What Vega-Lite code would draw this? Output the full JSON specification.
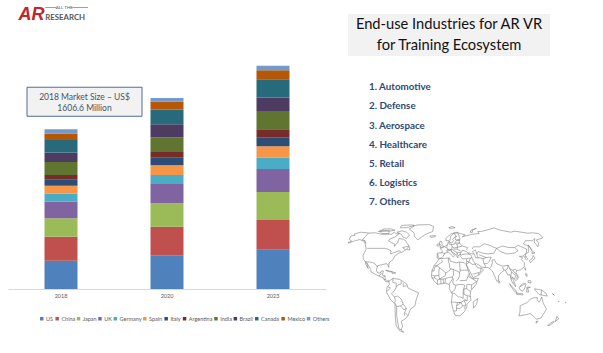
{"$schema":"https://vega.github.io/schema/vega-lite/v6.json","background":"white","padding":{"left":8,"top":0,"right":0,"bottom":0},"spacing":18,"config":{"view":{"stroke":null}},
"hconcat":[
{"bounds":"flush","spacing":0,"vconcat":[
{"width":318,"height":60,"data":{"values":[{"brand":"All The Research"}]},
"layer":[
{"mark":{"type":"text","text":"AR","font":"Liberation Sans","fontWeight":"bold","fontStyle":"italic","fontSize":18,"color":"#c4242b","align":"center"},"encoding":{"x":{"datum":26,"type":"quantitative","scale":{"domain":[0,318]},"axis":null},"y":{"datum":15,"type":"quantitative","scale":{"domain":[60,0]},"axis":null}}},
{"mark":{"type":"text","text":"ALL THE","font":"Lato","fontSize":4.5,"color":"#555555","align":"center"},"encoding":{"x":{"datum":62,"type":"quantitative"},"y":{"datum":7.5,"type":"quantitative"}}},
{"mark":{"type":"text","text":"RESEARCH","font":"Lato","fontWeight":"bold","fontSize":7.8,"color":"#555555","align":"center"},"encoding":{"x":{"datum":63,"type":"quantitative"},"y":{"datum":17.5,"type":"quantitative"}}},
{"mark":{"type":"rule","color":"#777777","strokeWidth":0.7},"encoding":{"x":{"datum":41,"type":"quantitative"},"x2":{"datum":53},"y":{"datum":7.5,"type":"quantitative"}}},
{"mark":{"type":"rule","color":"#777777","strokeWidth":0.7},"encoding":{"x":{"datum":71,"type":"quantitative"},"x2":{"datum":88},"y":{"datum":7.5,"type":"quantitative"}}}
]},
{"width":318,"height":229,
"data":{"values":[
{"year":"2018","region":"US","rank":1,"value":283.6},{"year":"2018","region":"China","rank":2,"value":241},{"year":"2018","region":"Japan","rank":3,"value":188},{"year":"2018","region":"UK","rank":4,"value":167},{"year":"2018","region":"Germany","rank":5,"value":80},{"year":"2018","region":"Spain","rank":6,"value":80},{"year":"2018","region":"Italy","rank":7,"value":60},{"year":"2018","region":"Argentina","rank":8,"value":47},{"year":"2018","region":"India","rank":9,"value":131},{"year":"2018","region":"Brazil","rank":10,"value":94},{"year":"2018","region":"Canada","rank":11,"value":128},{"year":"2018","region":"Mexico","rank":12,"value":63},{"year":"2018","region":"Others","rank":13,"value":44},
{"year":"2020","region":"US","rank":1,"value":339},{"year":"2020","region":"China","rank":2,"value":288},{"year":"2020","region":"Japan","rank":3,"value":235},{"year":"2020","region":"UK","rank":4,"value":194},{"year":"2020","region":"Germany","rank":5,"value":91},{"year":"2020","region":"Spain","rank":6,"value":98},{"year":"2020","region":"Italy","rank":7,"value":76},{"year":"2020","region":"Argentina","rank":8,"value":57},{"year":"2020","region":"India","rank":9,"value":148},{"year":"2020","region":"Brazil","rank":10,"value":131},{"year":"2020","region":"Canada","rank":11,"value":147},{"year":"2020","region":"Mexico","rank":12,"value":80},{"year":"2020","region":"Others","rank":13,"value":37},
{"year":"2023","region":"US","rank":1,"value":395},{"year":"2023","region":"China","rank":2,"value":299},{"year":"2023","region":"Japan","rank":3,"value":282},{"year":"2023","region":"UK","rank":4,"value":231},{"year":"2023","region":"Germany","rank":5,"value":114},{"year":"2023","region":"Spain","rank":6,"value":115},{"year":"2023","region":"Italy","rank":7,"value":91},{"year":"2023","region":"Argentina","rank":8,"value":80},{"year":"2023","region":"India","rank":9,"value":184},{"year":"2023","region":"Brazil","rank":10,"value":134},{"year":"2023","region":"Canada","rank":11,"value":185},{"year":"2023","region":"Mexico","rank":12,"value":91},{"year":"2023","region":"Others","rank":13,"value":43}
]},
"layer":[
{"mark":{"type":"bar","width":33},
"encoding":{
"x":{"field":"year","type":"nominal","scale":{"paddingInner":0,"paddingOuter":0},"axis":{"title":null,"labelAngle":0,"labelFont":"Lato","labelFontSize":5.5,"labelColor":"#595959","labelPadding":4,"ticks":false,"domainColor":"#d9d9d9","domainWidth":1,"grid":false}},
"y":{"field":"value","type":"quantitative","stack":"zero","scale":{"domain":[0,2303],"nice":false},"axis":null},
"order":{"field":"rank","type":"quantitative"},
"color":{"field":"region","type":"nominal","scale":{"domain":["US","China","Japan","UK","Germany","Spain","Italy","Argentina","India","Brazil","Canada","Mexico","Others"],"range":["#4f81bd","#c0504d","#9bbb59","#8064a2","#4bacc6","#f79646","#2c4d75","#772c2a","#5f7530","#4d3b62","#276a7c","#b65708","#729aca"]},"legend":{"title":null,"orient":"none","legendX":31,"legendY":256,"direction":"horizontal","columns":13,"gridAlign":"none","symbolType":"square","symbolSize":12,"symbolStrokeWidth":0,"labelFont":"Lato","labelFontSize":5.5,"labelColor":"#595959","labelOffset":1.5,"columnPadding":0.4}}
}},
{"data":{"values":[{"note":"2018 market size"}]},"mark":{"type":"bar","width":115,"xOffset":23.5,"color":"#f2f2f2","stroke":"#4f6d9c","strokeWidth":1},
"encoding":{"x":{"datum":"2018"},"y":{"datum":2029,"type":"quantitative"},"y2":{"datum":1737}}},
{"data":{"values":[{"note":"2018 market size"}]},"mark":{"type":"text","text":["2018 Market Size – US$","1606.6 Million"],"font":"Lato","fontSize":8.5,"color":"#44546a","xOffset":23.5,"lineHeight":11},
"encoding":{"x":{"datum":"2018"},"y":{"datum":1935,"type":"quantitative"}}}
],
"resolve":{"legend":{"color":"independent"}}}
]},
{"bounds":"flush","spacing":0,"vconcat":[
{"width":202,"height":14,"data":{"values":[{"blank":""}]},"mark":{"type":"text"},"encoding":{"text":{"field":"blank"}}},
{"width":202,"height":42,"view":{"fill":"#f2f2f2","stroke":null},
"data":{"values":[{"line":"End-use Industries for AR VR"},{"line":"for Training Ecosystem"}]},
"mark":{"type":"text","font":"Lato","fontSize":14.7,"color":"#111111"},
"encoding":{"y":{"field":"line","type":"nominal","sort":null,"axis":null},"text":{"field":"line"}}},
{"width":202,"height":156,
"data":{"values":[{"item":"1. Automotive"},{"item":"2. Defense"},{"item":"3. Aerospace"},{"item":"4. Healthcare"},{"item":"5. Retail"},{"item":"6. Logistics"},{"item":"7. Others"}]},
"mark":{"type":"text","font":"Lato","fontWeight":"bold","fontSize":9.8,"color":"#2e4a72","align":"left","dx":21},
"encoding":{"x":{"datum":0,"type":"quantitative","scale":{"domain":[0,1]},"axis":null},"y":{"field":"item","type":"nominal","sort":null,"axis":null,"scale":{"type":"band","paddingInner":0,"paddingOuter":0.5625,"align":1}},"text":{"field":"item"}}},
{"width":255,"height":141,
"projection":{"type":"naturalEarth1","scale":46,"translate":[95,76]},
"mark":{"type":"geoshape","filled":false,"stroke":"#666666","strokeWidth":0.5},
"data":{"values":[
{"type":"Feature","properties":{"name":"coast"},"geometry":{"type":"MultiLineString","coordinates":[
[[-168,65.5],[-162,66.5],[-166,68.5],[-157,71],[-141,69.7],[-128,70],[-115,68],[-108,68],[-95,68],[-94,71.5],[-88,68.5],[-82,69],[-87,64],[-94,61],[-94,58.7],[-88,56.5],[-82,55],[-80,51.5],[-79,54.5],[-77,56],[-78,62],[-70,61],[-65,59],[-60,55],[-56,52],[-66,50],[-60,47],[-65,44],[-70,43],[-71,41.5],[-74,40],[-76,35],[-81,31],[-80,25.5],[-82,28],[-84,30],[-90,29],[-97,27.5],[-97.5,22],[-95,18.5],[-91,18.5],[-90,21],[-87,21],[-88,16],[-83.5,15],[-83.5,11],[-80,9],[-77.5,8.5],[-80,7.5],[-83,8.5],[-87,13],[-92,14.5],[-96,16],[-105,20],[-106,23],[-112,29],[-114.7,31.5],[-110,24],[-115,29],[-117,32.5],[-121,35],[-124,40],[-124,48],[-130,54],[-135,58],[-146,60.5],[-152,59],[-158,56.5],[-165,54.5],[-158,58.5],[-165,61],[-168,65.5]],
[[-77.5,8.5],[-72,12],[-62,10.5],[-52,5],[-50,0],[-44,-2.5],[-35,-6],[-39,-15],[-41,-22],[-48,-26],[-53,-34],[-58,-38],[-65,-41],[-65,-47],[-69,-52],[-66,-55],[-72,-53],[-75,-47],[-73,-37],[-70,-20],[-76,-14],[-81,-5],[-80,1],[-77,4],[-77.5,8.5]],
[[-6,36],[10,37],[11,33],[20,31],[25,32],[32,31],[35,28],[37,21],[39,15],[43,11.5],[51,12],[47,4],[40,-3],[39,-10],[40.5,-15],[35,-20],[35,-24],[32,-29],[26,-34],[18.5,-34],[15,-27],[12,-17],[13.5,-8],[9,-1],[9.5,4],[4,6],[-4,5],[-8,4.5],[-13,9],[-17,14.7],[-16,21],[-13,28],[-10,31],[-6,36]],
[[-9,37],[-9,43],[-2,43.5],[-1,46],[-4.5,48.5],[2,51],[8,54],[8.5,57],[10.5,57],[10,54.5],[14,54],[20,54.5],[21,57],[24,59.5],[30,60],[22,60],[21.5,63],[25,65.5],[21,64],[17,61],[18,59],[15,56],[12.5,56],[10.5,59],[5,59],[5,62],[14,68],[25,71],[33,69],[41,67],[35,64.5],[44,66],[54,68],[68,69],[67,72],[73,72],[80,73],[105,77.5],[113,74],[130,71],[140,72.5],[160,69.5],[170,70],[179.9,69],[179.9,65],[177,62.5],[163,60],[162,56],[156,51],[156,57],[163,62],[155,59],[143,59],[135,54.5],[141,52],[135,44],[130,42.5],[127.5,39.5],[129.5,36],[126.5,34.5],[125,39.5],[121,39],[118,39],[122,37],[119,35],[122,31],[120,26],[114,22.5],[108,21.5],[106,19],[109,13],[105,9],[100,13.5],[103,5],[104,1.5],[100,6],[98,10],[97,16.5],[94,16],[91,22.5],[86,20],[80,15],[80,10],[77.5,8],[73,19],[72,21],[67,25],[57,25.5],[56,27],[50,30],[48,29.5],[51,25],[56,24.5],[59.5,22.5],[52,16],[43.5,12.7],[39,21],[35,28],[36,36],[30,36],[26.5,39],[29,41],[35,42],[41.5,41.5],[37,45],[31,46.5],[28,43],[26,40.5],[23,40],[23,37],[19.5,41.5],[13,45.5],[18,40],[16,38],[12,42],[8.5,44],[3,43],[0,39],[-2,37],[-6,36.5],[-9,37]],
[[47,45],[52,47],[53,41],[54,37],[50,37.5],[49,41],[47,45]],
[[-55,83],[-30,83.5],[-20,80],[-20,72],[-32,68],[-42,62],[-44,60],[-52,65],[-55,70],[-68,76],[-60,82],[-55,83]],
[[-90,82],[-70,83],[-62,82],[-75,78],[-88,78],[-90,82]],
[[-80,73],[-70,71],[-62,67],[-65,62],[-72,64],[-78,68],[-88,71],[-80,73]],
[[-120,74],[-105,73],[-102,69],[-115,69],[-120,71],[-120,74]],
[[-125,72],[-118,76],[-105,76],[-95,74],[-100,73],[-125,72]],
[[-59,47.5],[-53,47],[-56,51.5],[-59,47.5]],
[[-24,65.5],[-14,66],[-14,64.5],[-22,63.5],[-24,65.5]],
[[-5,50],[1,51],[-2,55],[-2,57.5],[-5,58.5],[-6,55],[-3,53],[-5,50]],
[[-10,52],[-6,52],[-6,55],[-10,54],[-10,52]],
[[12,78],[20,80],[25,78],[15,76.5],[12,78]],
[[52,71],[56,74],[68,77],[58,74],[56,70.5],[52,71]],
[[-84,22],[-74,20],[-78,20],[-84,22]],
[[-74,20],[-68.5,18.5],[-74,18],[-74,20]],
[[44,-17],[50,-13],[49,-20],[45,-25],[44,-17]],
[[80,9.5],[82,7],[80,6],[80,9.5]],
[[142,53.5],[143,47],[142,46],[142,53.5]],
[[141,45],[145,43.5],[140,42],[141,45]],
[[131,34],[136,36],[140,40],[141,37],[137,34.5],[131,31],[131,34]],
[[121,25],[121,22],[120,23],[121,25]],
[[120,18],[122,17],[121,14],[120,15],[120,18]],
[[122,9],[126,9],[126,6],[122,7],[122,9]],
[[95,5.5],[104,-3],[106,-6],[101,-3],[95,5.5]],
[[105,-6.5],[114,-7],[115,-8.5],[106,-8],[105,-6.5]],
[[109,1],[115,6],[119,5],[117,0],[114,-4],[110,-2],[109,1]],
[[120,1],[125,1],[121,0],[123,-5],[120,-5],[120,1]],
[[131,-1],[141,-2.5],[147,-6],[150,-10],[143,-9],[138,-8],[132,-3],[131,-1]],
[[113,-22],[122,-18],[126,-14],[131,-12],[136,-12],[136,-15],[140,-17.5],[142,-11],[146,-19],[153,-26],[150,-37],[144,-38.5],[138,-35],[131,-31.5],[124,-33],[115,-34.5],[115,-30],[113,-22]],
[[145,-41],[148,-41],[147,-43.5],[145,-41]],
[[173,-35],[178,-38],[175,-41.5],[174,-38],[173,-35]],
[[172,-41],[174,-42],[170,-46.5],[167,-46],[172,-41]],
[[167,-16],[168,-17],[167,-16]],
[[178,-17.5],[178.5,-18],[177.5,-18],[178,-17.5]],
[[157,-7],[160,-9],[157,-7]]
]}},
{"type":"Feature","properties":{"name":"borders"},"geometry":{"type":"MultiLineString","coordinates":[
[[-141,69.7],[-141,60],[-135,59],[-130,55]],
[[-123,49],[-95,49],[-89,48],[-83,46],[-82,42],[-76,44],[-70,46],[-67,45]],
[[-117,32.5],[-106,31.5],[-101,29.5],[-97,26]],
[[-92,14.5],[-91,17],[-89,18]],[[-87,13],[-84,15]],[[-85,11],[-83,10]],
[[-72,12],[-72,7],[-67,6],[-67,1],[-70,-4]],
[[-60,8.5],[-60,5],[-64,4],[-67,1]],[[-57,6],[-57,2],[-52,2.5]],
[[-70,-4],[-74,-7],[-70,-11],[-65,-10],[-60,-14],[-58,-20],[-54,-25],[-57,-30],[-53,-34]],
[[-79,1.5],[-75,0],[-80,-4]],
[[-70,-18],[-69,-15],[-70,-11]],
[[-70,-18],[-68,-23],[-70,-33],[-71,-42],[-72,-50],[-69,-52]],
[[-68,-23],[-62,-22],[-58,-20]],[[-62,-22],[-58,-27],[-54,-25]],[[-58,-34],[-58,-30]],
[[-2,35],[-1,32],[-8.7,28],[-8.7,27.3],[-13,27.7]],
[[-17,21],[-13,21],[-13,23],[-12,26],[-8.7,27.3]],
[[-8.7,27.3],[-5,25],[-6,21],[-6,15.5],[-12,15],[-16.5,16]],
[[8.5,37],[8,33],[9.5,30],[10,24.5],[12,23.5]],
[[-5,25],[1,21],[3.5,19],[6,19.5],[12,23.5]],
[[25,32],[25,20],[24,19.5],[15,23],[12,23.5]],
[[25,22],[37,22]],
[[15,23],[15.5,16],[13.5,14],[14,12],[15,10],[14,7.5]],
[[24,19.5],[24,15.5],[22,11],[19,9]],
[[3.5,11.5],[8,13],[13.5,13.5]],[[3.5,15.5],[4,19]],[[3,6.5],[3.5,11.5]],[[8.7,4.5],[14,11.5]],
[[14,7.5],[15,4.5],[18.5,3.5],[24,4.5],[30,4],[31,3.5]],
[[24,9],[34,9.5],[36,14.5],[38.5,18]],
[[12,-5],[14,-4.5],[17,-2],[18.5,3.5]],
[[12.5,-6],[17,-7],[22,-11],[24,-11]],
[[24,-11],[28,-12],[29,-13],[29,-8.5]],
[[29,-8.5],[29,-3],[30,0],[31,3.5]],
[[39.5,-4.7],[34,-1],[30,-1],[30,-8],[35,-9.5],[40,-10.5]],
[[41,-1.5],[41,4],[36,4.5],[34,4],[34,-1]],[[41,4],[48,8],[43,11]],[[36,14.5],[43,11]],
[[12,-17.3],[23,-18],[25,-17.8]],
[[16.5,-28.5],[20,-28],[20,-22],[21,-18]],
[[20,-22],[26,-18],[29,-22],[25,-25.5],[20,-25]],
[[23,-18],[26,-18],[30,-15.5],[33,-14]],[[30,-15.5],[33,-19],[32,-26]],[[35,-9.5],[35,-16],[31,-15]],[[29,-22],[32,-22]],
[[-16.8,12.4],[-12,12.5],[-8,10],[-8,4.5]],[[-12,15],[-12,12.5]],[[-8,10],[-3,11],[0,11],[3.5,11.5]],[[-3,5],[-3,11]],[[1,6],[0,11]],[[-6,15.5],[-5,11]],[[-5,11],[3.5,15.5]],
[[-2,43.5],[3,42.5]],[[-8.5,42],[-7,37.5]],
[[2.5,51],[6,49.5],[8,49],[7.5,47.5],[6,46],[7.5,44]],
[[14,54],[15,51],[19,49.5],[24,50.5],[23.5,54],[22,54.5]],
[[7,53.5],[6,50]],[[7.5,47.5],[13,47.5],[14,49],[15,51]],
[[7,46],[13.5,46.5],[13.7,45.5]],[[13,47.5],[17,48],[22,48]],
[[16,46.5],[22,44],[23,41.5],[20,42]],
[[24,50.5],[22.5,48],[28,45.5],[29,45.5]],[[24,50.5],[32,52],[40,50],[38,47]],
[[23.5,54],[28,56],[32,52]],[[28,56],[28,59.5]],[[21,56],[28,56]],
[[12,59],[14,65],[20,69],[28,70]],[[28,70],[30,62],[28,60.5]],[[20,69],[24,66]],
[[22.5,44],[28,43.5]],[[26,41.5],[28,41]],
[[36,36.5],[44,37],[44.5,39.5],[41.5,41.5]],
[[36,33],[39,32],[42,37]],[[36,29.5],[39,32],[44,29],[48,29.5]],[[44.5,37],[46,33],[48,30]],
[[43,17],[52,19],[55,20],[56,24.5]],[[52,16],[52,19]],
[[47,48],[50,51],[60,51],[70,55],[77,53],[87,49]],
[[53,42],[56,45],[62,43],[70,42],[80,43],[87,49]],
[[40,43.5],[48,41.5]],[[54,37.5],[61,36],[61,31],[63,27],[61.5,25]],
[[61,36],[66,37.5],[74,38],[70,33],[66,30],[61,30]],
[[56,41],[62,39],[66,37.5]],
[[68,24],[71,26],[74,31],[74,34],[78,35]],
[[78,35],[80,30],[88,27],[97,28],[94,23],[92,22]],[[88,26],[89,22]],
[[87,49],[98,52],[108,50],[117,50],[120,46],[112,43],[100,42],[91,45],[87,49]],
[[117,50],[125,53],[135,48],[131,43]],[[124.5,40],[130,42.5]],[[126,38],[128.5,38.5]],
[[97,28],[98,24],[102,22],[106,23],[108,21.5]],[[98,24],[100,20],[98,15],[99,10.5]],
[[102,22],[105,18],[107.5,14.5],[106,11]],[[100,20],[105,15],[103,11]],[[100.5,6.5],[102,6]],
[[110,1.5],[115,4],[117,4.5]],[[141,-2.5],[141,-9]]
]}}
]}}
]}
]}
